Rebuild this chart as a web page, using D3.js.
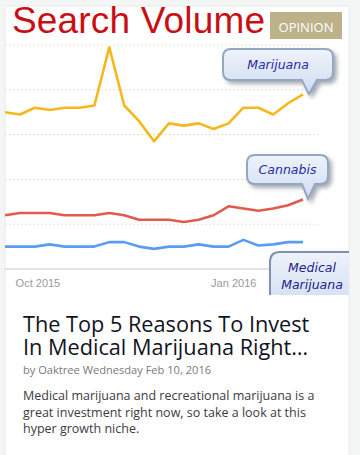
<!DOCTYPE html>
<html>
<head>
<meta charset="utf-8">
<script src="https://cdn.jsdelivr.net/npm/d3@7"></script>
<style>
  html,body{margin:0;padding:0;background:#f4f5f5;}
  svg{display:block;}
</style>
</head>
<body>
<svg id="c" width="360" height="455"></svg>
<script>
// ---- data ----
const weeks = ["2015-09-16","2015-09-23","2015-09-30","2015-10-07","2015-10-14","2015-10-21","2015-10-28",
  "2015-11-04","2015-11-11","2015-11-18","2015-11-25","2015-12-02","2015-12-09","2015-12-16","2015-12-23",
  "2015-12-30","2016-01-06","2016-01-13","2016-01-20","2016-01-27","2016-02-03"];
const marijuana = [70, 69, 72, 71, 72, 72, 73, 99, 73, 66, 57, 65, 64, 65, 62.5, 65, 72, 72, 69, 74, 78];
const cannabis  = [24, 25, 25, 25, 24, 24, 24, 25, 24, 22, 22, 22, 21, 22, 24, 28, 27, 26, 27, 28.5, 31];
const medical   = [10, 10, 10, 11, 10, 10, 10, 12, 12, 10, 9, 10, 10, 11, 10, 10, 13, 10.5, 11, 12, 12];
const gridValues = [20, 40, 60, 80, 100];
const xTickDates = ["2015-10-01", "2016-01-01"];
const xTickLabels = ["Oct 2015", "Jan 2016"];
const seriesNames = ["Marijuana", "Cannabis", "Medical Marijuana"];

const chartTitle = "Search Volume";
const badge = "OPINION";
const headline = ["The Top 5 Reasons To Invest", "In Medical Marijuana Right…"];
const byline = "by Oaktree Wednesday Feb 10, 2016";
const desc = ["Medical marijuana and recreational marijuana is a",
  "great investment right now, so take a look at this",
  "hyper growth niche."];

const svg = d3.select("#c");
const parse = d3.utcParse("%Y-%m-%d");
const dates = weeks.map(parse);

// defs
const defs = svg.append("defs");
const f = defs.append("filter").attr("id","sh").attr("x","-20%").attr("y","-20%").attr("width","150%").attr("height","160%");
f.append("feDropShadow").attr("dx",3).attr("dy",3).attr("stdDeviation",2).attr("flood-color","#6b7280").attr("flood-opacity",0.6);
const g1 = defs.append("linearGradient").attr("id","bg").attr("x1",0).attr("y1",0).attr("x2",0).attr("y2",1);
g1.append("stop").attr("offset","0%").attr("stop-color","#eef3fb");
g1.append("stop").attr("offset","100%").attr("stop-color","#cfdcf0");
defs.append("clipPath").attr("id","imgclip").append("rect").attr("x",5).attr("y",6).attr("width",344).attr("height",289);

// card
svg.append("rect").attr("x",5).attr("y",6).attr("width",344).attr("height",460)
  .attr("fill","#fff").attr("stroke","#e8eaea");

const img = svg.append("g").attr("clip-path","url(#imgclip)");

// scales
const x = d3.scaleUtc().domain(d3.extent(dates)).range([5, 303]);
const y = d3.scaleLinear().domain([0, 100]).range([269, 45]);

// gridlines
img.selectAll("line.grid").data(gridValues).join("line").attr("class","grid")
  .attr("x1",5).attr("x2",318).attr("y1",d=>y(d)).attr("y2",d=>y(d))
  .attr("stroke","#e6e0cf").attr("stroke-width",1).attr("stroke-dasharray","2,2");
// baseline
img.append("line").attr("x1",5).attr("x2",275).attr("y1",y(0)).attr("y2",y(0))
  .attr("stroke","#c8c8c8").attr("stroke-width",1.2);

// x tick labels
img.selectAll("text.xt").data(xTickDates).join("text").attr("class","xt")
  .attr("x",d=>x(parse(d))+1).attr("y",287)
  .attr("text-anchor","middle").attr("font-family","Liberation Sans, Arial, sans-serif")
  .attr("font-size",11).attr("fill","#9a9a9a").text((d,i)=>xTickLabels[i]);

// lines
const line = d3.line().x((d,i)=>x(dates[i])).y(d=>y(d));
const series = [
  {v: medical, c:"#5b9cf2"},
  {v: cannabis, c:"#e05b4c"},
  {v: marijuana, c:"#f5b81c"}
];
img.selectAll("path.s").data(series).join("path").attr("class","s")
  .attr("d",d=>line(d.v)).attr("fill","none").attr("stroke",d=>d.c)
  .attr("stroke-width",2.6).attr("stroke-linejoin","round");

// title
img.append("text").attr("x",12).attr("y",33).attr("font-family","Liberation Sans, Arial, sans-serif")
  .attr("font-size",37).attr("fill","#c80f14").attr("textLength",253).text(chartTitle);

// bubbles
function bubble(bx,by,bw,bh,tail,label){
  const r=8;
  const [t1,tip,t2]=tail;
  const p = `M${bx+r},${by} H${bx+bw-r} Q${bx+bw},${by} ${bx+bw},${by+r} V${by+bh-r} Q${bx+bw},${by+bh} ${bx+bw-r},${by+bh}
    H${t2} L${tip[0]},${tip[1]} Q${t1+2},${by+bh+5} ${t1},${by+bh} H${bx+r} Q${bx},${by+bh} ${bx},${by+bh-r} V${by+r} Q${bx},${by} ${bx+r},${by} Z`;
  img.append("path").attr("d",p).attr("fill","url(#bg)").attr("stroke","#93a6c4").attr("stroke-width",2).attr("filter","url(#sh)");
  img.append("text").attr("x",bx+bw/2).attr("y",by+bh/2+4).attr("text-anchor","middle")
    .attr("font-family","DejaVu Sans, sans-serif").attr("font-style","italic").attr("font-size",12.5)
    .attr("fill","#2a2aa8").text(label);
}
bubble(223,49,110,31,[302,[309,94],317],seriesNames[0]);
bubble(247,155,81,29,[302,[308,199],315],seriesNames[1]);

// Medical Marijuana box
img.append("path").attr("d","M270,310 V262 Q270,252 280,252 H360 V310 Z")
  .attr("fill","url(#bg)").attr("stroke","#7f90b0").attr("stroke-width",2).attr("filter","url(#sh)");
const mm = seriesNames[2].split(" ");
const mmt = img.append("text").attr("text-anchor","middle")
  .attr("font-family","DejaVu Sans, sans-serif").attr("font-style","italic").attr("font-size",12.5)
  .attr("fill","#22228e");
mmt.selectAll("tspan").data(mm).join("tspan").attr("x",312).attr("y",(d,i)=>272+i*17).text(d=>d);

// badge
svg.append("rect").attr("x",270).attr("y",12).attr("width",72).attr("height",27).attr("fill","#bcb189");
svg.append("text").attr("x",306).attr("y",31.5).attr("text-anchor","middle")
  .attr("font-family","Open Sans, sans-serif").attr("font-size",13).attr("fill","#fff").text(badge);

// article text
const ht = svg.append("text").attr("font-family","Open Sans, sans-serif").attr("font-size",21.7).attr("fill","#111322");
ht.selectAll("tspan").data(headline).join("tspan").attr("x",23).attr("y",(d,i)=>331.5+i*23.5).text(d=>d);
svg.append("text").attr("x",23).attr("y",373.5).attr("font-family","Open Sans, sans-serif")
  .attr("font-size",11.1).attr("fill","#7a7a7a").text(byline);
const dt = svg.append("text").attr("font-family","Open Sans, sans-serif").attr("font-size",12.5).attr("fill","#3d3a44");
dt.selectAll("tspan").data(desc).join("tspan").attr("x",23).attr("y",(d,i)=>400+i*16.5).text(d=>d);
</script>
</body>
</html>
